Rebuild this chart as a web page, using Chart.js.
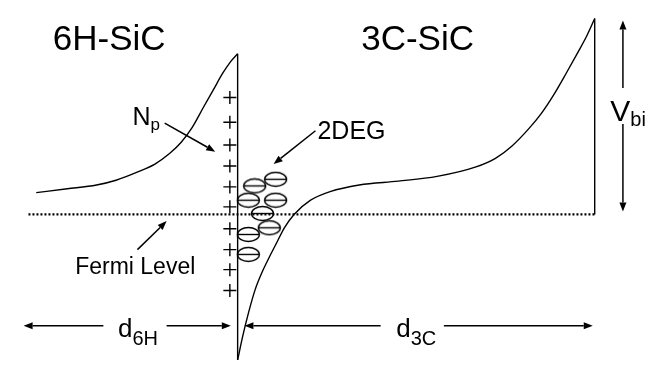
<!DOCTYPE html>
<html>
<head>
<meta charset="utf-8">
<script src="https://cdn.jsdelivr.net/npm/chart.js@4/dist/chart.umd.min.js"></script>
<style>
  html, body { margin: 0; padding: 0; background: #fff; }
  #wrap { width: 665px; height: 369px; }
</style>
</head>
<body>
<div id="wrap"><canvas id="c" width="665" height="369"></canvas></div>
<script>
// Band diagram of a 6H-SiC / 3C-SiC heterojunction.
// Position: distance from the interface (arb. units, 6H side negative).
// Energy: conduction band edge relative to the Fermi level (eV).

const pos6H = [-41.4, -35, -29, -25, -20.4, -17, -14, -11.6, -9.4, -7, -5, -3, -1.4, 0];
const cb6H  = [0.23, 0.27, 0.31, 0.36, 0.45, 0.53, 0.64, 0.76, 0.91, 1.13, 1.31, 1.49, 1.61, 1.69];

const pos3C = [0, 1, 2.2, 3.6, 5, 6.4, 8, 9.6, 11.6, 15, 19, 25, 33, 41, 49, 53, 56.4, 60, 62.4, 65, 67.6, 70, 71.6, 73.4];
const cb3C  = [-1.53, -1.29, -1.04, -0.79, -0.61, -0.46, -0.30, -0.14, 0.00, 0.15, 0.24, 0.31, 0.35, 0.40, 0.50, 0.59, 0.72, 0.91, 1.06, 1.26, 1.49, 1.71, 1.86, 2.06];

const fermiSpan = [-43, 73.4];
const fermiEnergy = 0;

const interfacePos = 0;
const interfaceSpan = [1.69, -1.53];
const backPos = 73.4;
const backSpan = [0, 2.06];

// Ionised donor sheet (N_p) on the 6H side
const donorPos = [-1.6, -1.6, -1.6, -1.6, -1.6, -1.6, -1.6, -1.6, -1.6, -1.6];
const donorE   = [1.23, 0.97, 0.73, 0.51, 0.29, 0.08, -0.15, -0.37, -0.58, -0.80];

// Two-dimensional electron gas in the 3C well
const electronPos = [3.5, 7.8, 2.2, 7.8, 5.1, 6.5, 2.2, 2.2];
const electronE   = [0.30, 0.37, 0.15, 0.15, 0.01, -0.14, -0.21, -0.42];

// Text labels: main text, subscript, anchor position and energy
const labelText = ['6H-SiC', '3C-SiC', 'N', '2DEG', 'Fermi Level', 'V', 'd', 'd'];
const labelSub  = ['', '', 'p', '', '', 'bi', '6H', '3C'];
const labelPos  = [-38, 25.4, -21.6, 16.4, -33.4, 76.6, -24.6, 32.6];
const labelE    = [1.73, 1.73, 0.94, 0.79, -0.63, 0.98, -1.285, -1.285];

// Arrows: tail -> head
const arrowFromPos = [-15, 16, -20.6, 79.2, 79.2, -27.6, -14.6, 29.4, 42.4];
const arrowFromE   = [0.96, 0.88, -0.37, 1.33, 0.95, -1.17, -1.17, -1.17, -1.17];
const arrowToPos   = [-4.6, 7.4, -14.6, 79.2, 79.2, -44, -1.4, 1.4, 73];
const arrowToE     = [0.66, 0.53, -0.07, 2.04, 0.03, -1.17, -1.17, -1.17, -1.17];

const FONT = '"Liberation Sans", Arial, Helvetica, sans-serif';
// [main size, subscript size] in px, and subscript drop
const labelStyle = [
  [35, 0], [35, 0], [25, 17], [25, 0], [23, 0], [30, 20], [26, 20], [26, 20]
];
const subOffset = [0, 0, 5, 0, 0, 5, 8, 8];

const zip = (xs, ys) => xs.map((x, i) => ({ x, y: ys[i] }));

// Electron symbol: ellipse with a minus bar
function electronSprite() {
  const cv = document.createElement('canvas');
  cv.width = 25; cv.height = 17;
  const g = cv.getContext('2d');
  g.strokeStyle = '#000';
  g.lineWidth = 1.4;
  g.beginPath();
  g.ellipse(12.5, 8.5, 11, 7, 0, 0, Math.PI * 2);
  g.stroke();
  g.beginPath();
  g.moveTo(1.5, 8.5); g.lineTo(23.5, 8.5);
  g.stroke();
  return cv;
}

const annotate = {
  id: 'annotate',
  afterDatasetsDraw(chart) {
    const ctx = chart.ctx;
    const xs = chart.scales.x, ys = chart.scales.y;
    ctx.save();
    ctx.fillStyle = '#000';
    ctx.strokeStyle = '#000';
    ctx.textBaseline = 'alphabetic';
    ctx.textAlign = 'left';
    labelText.forEach((t, i) => {
      const px = xs.getPixelForValue(labelPos[i]);
      const py = ys.getPixelForValue(labelE[i]);
      const [sz, subSz] = labelStyle[i];
      ctx.font = sz + 'px ' + FONT;
      ctx.fillText(t, px, py);
      if (labelSub[i]) {
        const w = ctx.measureText(t).width;
        ctx.font = subSz + 'px ' + FONT;
        ctx.fillText(labelSub[i], px + w, py + subOffset[i]);
      }
    });
    ctx.lineWidth = 1.5;
    arrowFromPos.forEach((_, i) => {
      const x0 = xs.getPixelForValue(arrowFromPos[i]);
      const y0 = ys.getPixelForValue(arrowFromE[i]);
      const x1 = xs.getPixelForValue(arrowToPos[i]);
      const y1 = ys.getPixelForValue(arrowToE[i]);
      const a = Math.atan2(y1 - y0, x1 - x0);
      const len = 9, half = 3.5;
      const bx = x1 - len * Math.cos(a), by = y1 - len * Math.sin(a);
      ctx.beginPath();
      ctx.moveTo(x0, y0); ctx.lineTo(bx, by);
      ctx.stroke();
      ctx.beginPath();
      ctx.moveTo(x1, y1);
      ctx.lineTo(bx + half * Math.sin(a), by - half * Math.cos(a));
      ctx.lineTo(bx - half * Math.sin(a), by + half * Math.cos(a));
      ctx.closePath();
      ctx.fill();
    });
    ctx.restore();
  }
};

const lineDs = (data, extra) => Object.assign({
  data, showLine: true, borderColor: '#000', borderWidth: 1.4,
  pointRadius: 0, fill: false, cubicInterpolationMode: 'monotone'
}, extra || {});

new Chart(document.getElementById('c'), {
  type: 'scatter',
  data: {
    datasets: [
      lineDs(zip(fermiSpan, [fermiEnergy, fermiEnergy]), { borderWidth: 2.2, borderDash: [2, 2], cubicInterpolationMode: 'default' }),
      lineDs(zip(pos6H, cb6H)),
      lineDs(zip(pos3C, cb3C)),
      lineDs(zip([interfacePos, interfacePos], interfaceSpan), { cubicInterpolationMode: 'default' }),
      lineDs(zip([backPos, backPos], backSpan), { cubicInterpolationMode: 'default' }),
      {
        data: zip(donorPos, donorE), showLine: false,
        pointStyle: 'cross', pointRadius: 6.5, borderColor: '#000', borderWidth: 1.4
      },
      {
        data: zip(electronPos, electronE), showLine: false,
        pointStyle: electronSprite(), pointRadius: 8
      }
    ]
  },
  options: {
    responsive: false,
    animation: false,
    devicePixelRatio: 1,
    layout: { padding: 0 },
    plugins: { legend: { display: false }, tooltip: { enabled: false }, title: { display: false } },
    events: [],
    scales: {
      x: { type: 'linear', min: -47, max: 86, display: false },
      y: { type: 'linear', min: -1.53, max: 2.16, display: false }
    }
  },
  plugins: [annotate]
});
</script>
</body>
</html>
